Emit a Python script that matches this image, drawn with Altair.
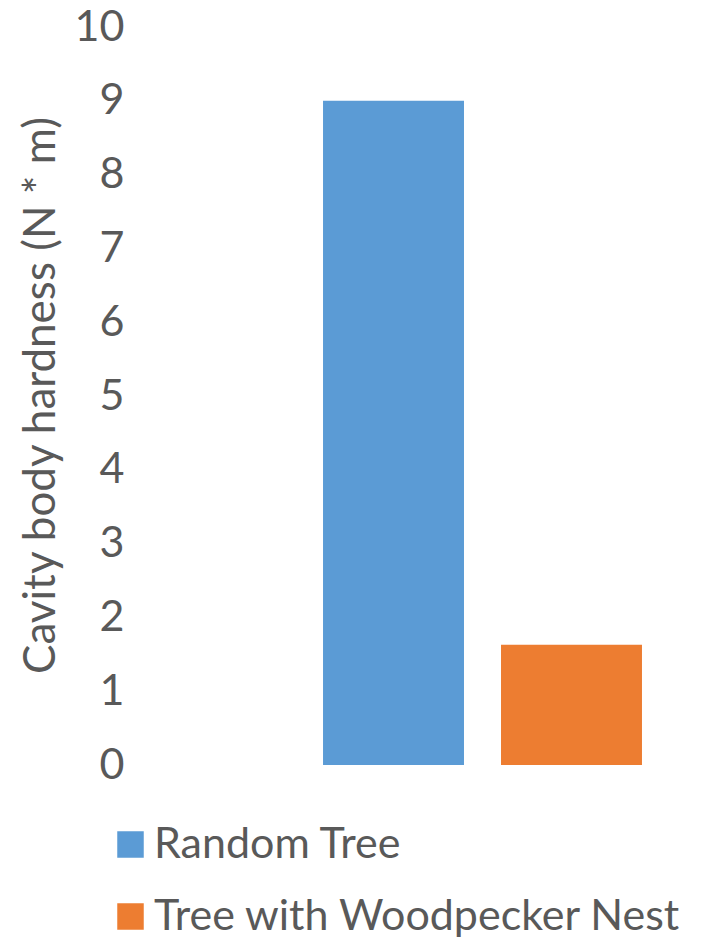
import altair as alt
import pandas as pd

series = ["Random Tree", "Tree with Woodpecker Nest"]
values = [9.0, 1.63]
colors = ["#5B9BD5", "#ED7D31"]
y_ticks = [0, 1, 2, 3, 4, 5, 6, 7, 8, 9, 10]

df = pd.DataFrame({"series": series, "value": values})

FONT = "Lato"
TXT = "#595959"

chart = alt.Chart(df).mark_bar().encode(
    x=alt.X("series:N", sort=series, axis=None,
            scale=alt.Scale(paddingInner=0.208, paddingOuter=0.326)),
    y=alt.Y("value:Q",
            scale=alt.Scale(domain=[0, 10], nice=False),
            axis=alt.Axis(values=y_ticks, title="Cavity body hardness (N * m)",
                          grid=False, domain=False, ticks=False,
                          labelPadding=0, offset=141,
                          labelFont=FONT, labelFontSize=43, labelColor=TXT,
                          titleFont=FONT, titleFontSize=44, titleColor=TXT,
                          titleFontWeight="normal",
                          titleX=-83, titleY=368, titleAngle=270,
                          titleBaseline="middle", titleAlign="center")),
    color=alt.Color("series:N", sort=series,
                    scale=alt.Scale(domain=series, range=colors),
                    legend=alt.Legend(title=None, orient="none",
                                      legendX=-156, legendY=796,
                                      direction="vertical",
                                      symbolType="square", symbolSize=702,
                                      symbolStrokeWidth=0,
                                      labelFont=FONT, labelFontSize=43,
                                      labelColor=TXT, labelOffset=2,
                                      rowPadding=28, labelLimit=700)),
).properties(
    width=435, height=738,
    autosize=alt.AutoSizeParams(type="none"),
    padding={"left": 265, "top": 27, "right": 14, "bottom": 176},
    background="white",
).configure_view(strokeWidth=0)

chart.save("out.html", embed_options={"renderer": "svg", "actions": False})
